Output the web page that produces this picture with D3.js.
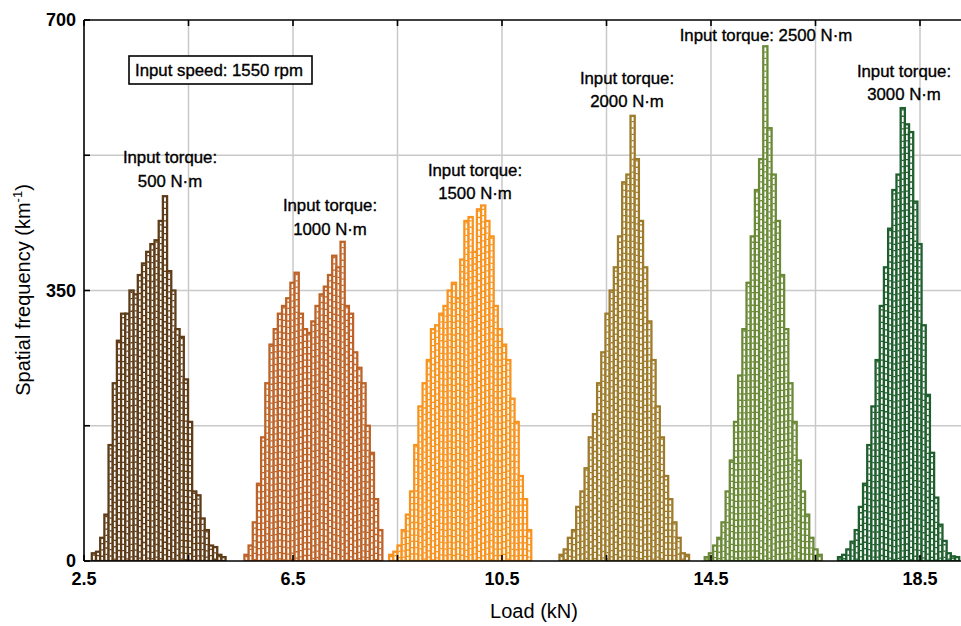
<!DOCTYPE html>
<html>
<head>
<meta charset="utf-8">
<script src="https://cdn.jsdelivr.net/npm/d3@7/dist/d3.min.js"></script>
<style>
  html, body { margin: 0; padding: 0; background: #fff; }
  svg { display: block; font-family: "Liberation Sans", Arial, Helvetica, sans-serif; }
</style>
</head>
<body>
<svg id="chart" width="961" height="626"></svg>
<script>
// Load spectra at 1550 rpm for six input torques (bin width 0.08 kN)
const BIN = 0.08;
const torques = ["500", "1000", "1500", "2000", "2500", "3000"];
const binStarts = [2.65, 5.57, 8.34, 11.60, 14.38, 16.93];

const freq500 = [10, 12, 30, 60, 150, 230, 285, 320, 320, 350, 345, 370, 385, 400, 410, 415,
                 440, 472, 375, 350, 300, 290, 235, 180, 90, 85, 55, 40, 20, 18, 8, 5];
const freq1000 = [8, 20, 50, 100, 160, 230, 280, 300, 320, 330, 340, 360, 373, 320, 300, 295,
                  310, 330, 345, 355, 370, 395, 380, 413, 330, 320, 270, 250, 230, 175, 140, 80, 40];
const freq1500 = [8, 12, 20, 40, 60, 90, 150, 200, 230, 260, 300, 305, 320, 330, 350, 360, 340,
                  390, 440, 445, 400, 455, 460, 440, 420, 330, 300, 280, 260, 210, 180, 110, 80, 40];
const freq2000 = [8, 15, 30, 40, 70, 90, 120, 160, 190, 230, 270, 320, 350, 380, 420, 490, 500,
                  576, 520, 440, 380, 310, 260, 200, 160, 110, 80, 50, 30, 10, 8];
const freq2500 = [5, 10, 20, 30, 50, 90, 130, 180, 240, 300, 360, 420, 480, 520, 666, 560, 500,
                  440, 370, 300, 230, 180, 130, 90, 60, 30, 15, 8];
const freq3000 = [5, 8, 15, 25, 40, 70, 100, 150, 200, 260, 330, 380, 430, 480, 500, 586, 565,
                  555, 465, 410, 305, 215, 140, 82, 47, 26, 10, 6, 5];

const seriesFreq = [freq500, freq1000, freq1500, freq2000, freq2500, freq3000];
const colors = ["#5f3c18", "#bd6328", "#f7931e", "#9e7b2b", "#6a8a38", "#1f5f2e"];

const xMajorTicks = [2.5, 6.5, 10.5, 14.5, 18.5];
const xMinorTicks = [4.5, 8.5, 12.5, 16.5];
const yMajorTicks = [0, 350, 700];
const yMinorTicks = [175, 525];

const svg = d3.select("#chart");
const W = 961;
const plotLeft = 84, plotTop = 20, plotBottom = 561;
const x = d3.scaleLinear().domain([2.5, 19.5]).range([plotLeft, 972.25]);
const y = d3.scaleLinear().domain([0, 700]).range([plotBottom, plotTop]);

svg.append("defs").append("clipPath").attr("id", "plotClip")
  .append("rect").attr("x", plotLeft).attr("y", plotTop)
  .attr("width", W - plotLeft).attr("height", plotBottom - plotTop);

// grid
const grid = svg.append("g").attr("stroke", "#c9c9c9").attr("stroke-width", 1.5);
xMinorTicks.concat(xMajorTicks.slice(1)).forEach(v => {
  grid.append("line").attr("x1", x(v)).attr("x2", x(v)).attr("y1", plotTop).attr("y2", plotBottom);
});
yMinorTicks.concat([350]).forEach(v => {
  grid.append("line").attr("x1", plotLeft).attr("x2", W).attr("y1", y(v)).attr("y2", y(v));
});

// histograms
const bars = svg.append("g").attr("clip-path", "url(#plotClip)");
seriesFreq.forEach((vals, s) => {
  const g = bars.append("g");
  const col = colors[s];
  vals.forEach((v, i) => {
    const x0 = x(binStarts[s] + i * BIN), x1 = x(binStarts[s] + (i + 1) * BIN);
    g.append("rect")
      .attr("x", x0).attr("y", y(v))
      .attr("width", x1 - x0).attr("height", y(0) - y(v))
      .attr("fill", "#fff").attr("stroke", col).attr("stroke-width", 2.3);
  });
  // cross-hatching inside each bar
  vals.forEach((v, i) => {
    const x0 = x(binStarts[s] + i * BIN), x1 = x(binStarts[s] + (i + 1) * BIN);
    g.append("line")
      .attr("x1", (x0 + x1) / 2).attr("x2", (x0 + x1) / 2)
      .attr("y1", y(v) + 1.2).attr("y2", y(0))
      .attr("stroke", col).attr("stroke-width", 2.2)
      .attr("stroke-dasharray", "1.3,5")
      .attr("stroke-dashoffset", -((i * 2) % 6));
  });
});

// frame
const frame = svg.append("g").attr("stroke", "#000").attr("stroke-width", 1.6).attr("fill", "none");
frame.append("line").attr("x1", plotLeft).attr("x2", W).attr("y1", plotBottom).attr("y2", plotBottom);
frame.append("line").attr("x1", plotLeft).attr("x2", W).attr("y1", plotTop).attr("y2", plotTop);
frame.append("line").attr("x1", plotLeft).attr("x2", plotLeft).attr("y1", plotTop).attr("y2", plotBottom);

// ticks (inward) on bottom, top and left
const tk = svg.append("g").attr("stroke", "#000").attr("stroke-width", 1.6);
xMajorTicks.concat(xMinorTicks).forEach(v => {
  tk.append("line").attr("x1", x(v)).attr("x2", x(v)).attr("y1", plotBottom).attr("y2", plotBottom - 6);
  tk.append("line").attr("x1", x(v)).attr("x2", x(v)).attr("y1", plotTop).attr("y2", plotTop + 6);
});
yMajorTicks.concat(yMinorTicks).forEach(v => {
  tk.append("line").attr("x1", plotLeft).attr("x2", plotLeft + 6).attr("y1", y(v)).attr("y2", y(v));
});

// tick labels
svg.append("g").selectAll("text").data(xMajorTicks).join("text")
  .attr("x", d => x(d)).attr("y", 585)
  .attr("text-anchor", "middle").attr("font-size", 18).attr("font-weight", "bold")
  .text(d => d3.format(".1f")(d));
svg.append("g").selectAll("text").data(yMajorTicks).join("text")
  .attr("x", 76).attr("y", d => y(d)).attr("dy", "0.35em")
  .attr("text-anchor", "end").attr("font-size", 18).attr("font-weight", "bold")
  .text(d => d);

// axis titles
svg.append("text").attr("x", 534).attr("y", 618).attr("text-anchor", "middle")
  .attr("font-size", 20).text("Load (kN)");
const yt = svg.append("text").attr("transform", "translate(30,290) rotate(-90)")
  .attr("text-anchor", "middle").attr("font-size", 20);
yt.append("tspan").text("Spatial frequency (km");
yt.append("tspan").attr("font-size", 13).attr("dy", -8).text("-1");
yt.append("tspan").attr("dy", 8).text(")");

// condition box
svg.append("rect").attr("x", 129).attr("y", 56).attr("width", 183).attr("height", 28)
  .attr("fill", "#fff").attr("stroke", "#000").attr("stroke-width", 1.6);
svg.append("text").attr("x", 135).attr("y", 76).attr("font-size", 16.8)
  .attr("stroke", "#000").attr("stroke-width", 0.35).text("Input speed: 1550 rpm");

// torque labels
const labelPos = [
  { cx: 170, ys: [163, 187] },
  { cx: 330, ys: [211, 235] },
  { cx: 475, ys: [176, 199] },
  { cx: 627, ys: [84, 107] },
  { cx: 766, ys: [41] },
  { cx: 904, ys: [77, 100] }
];
torques.forEach((t, s) => {
  const p = labelPos[s];
  const lines = p.ys.length === 1 ? ["Input torque: " + t + " N·m"] : ["Input torque:", t + " N·m"];
  lines.forEach((ln, k) => {
    svg.append("text").attr("x", p.cx).attr("y", p.ys[k]).attr("text-anchor", "middle")
      .attr("font-size", 16.8).attr("stroke", "#000").attr("stroke-width", 0.35).text(ln);
  });
});
</script>
</body>
</html>
